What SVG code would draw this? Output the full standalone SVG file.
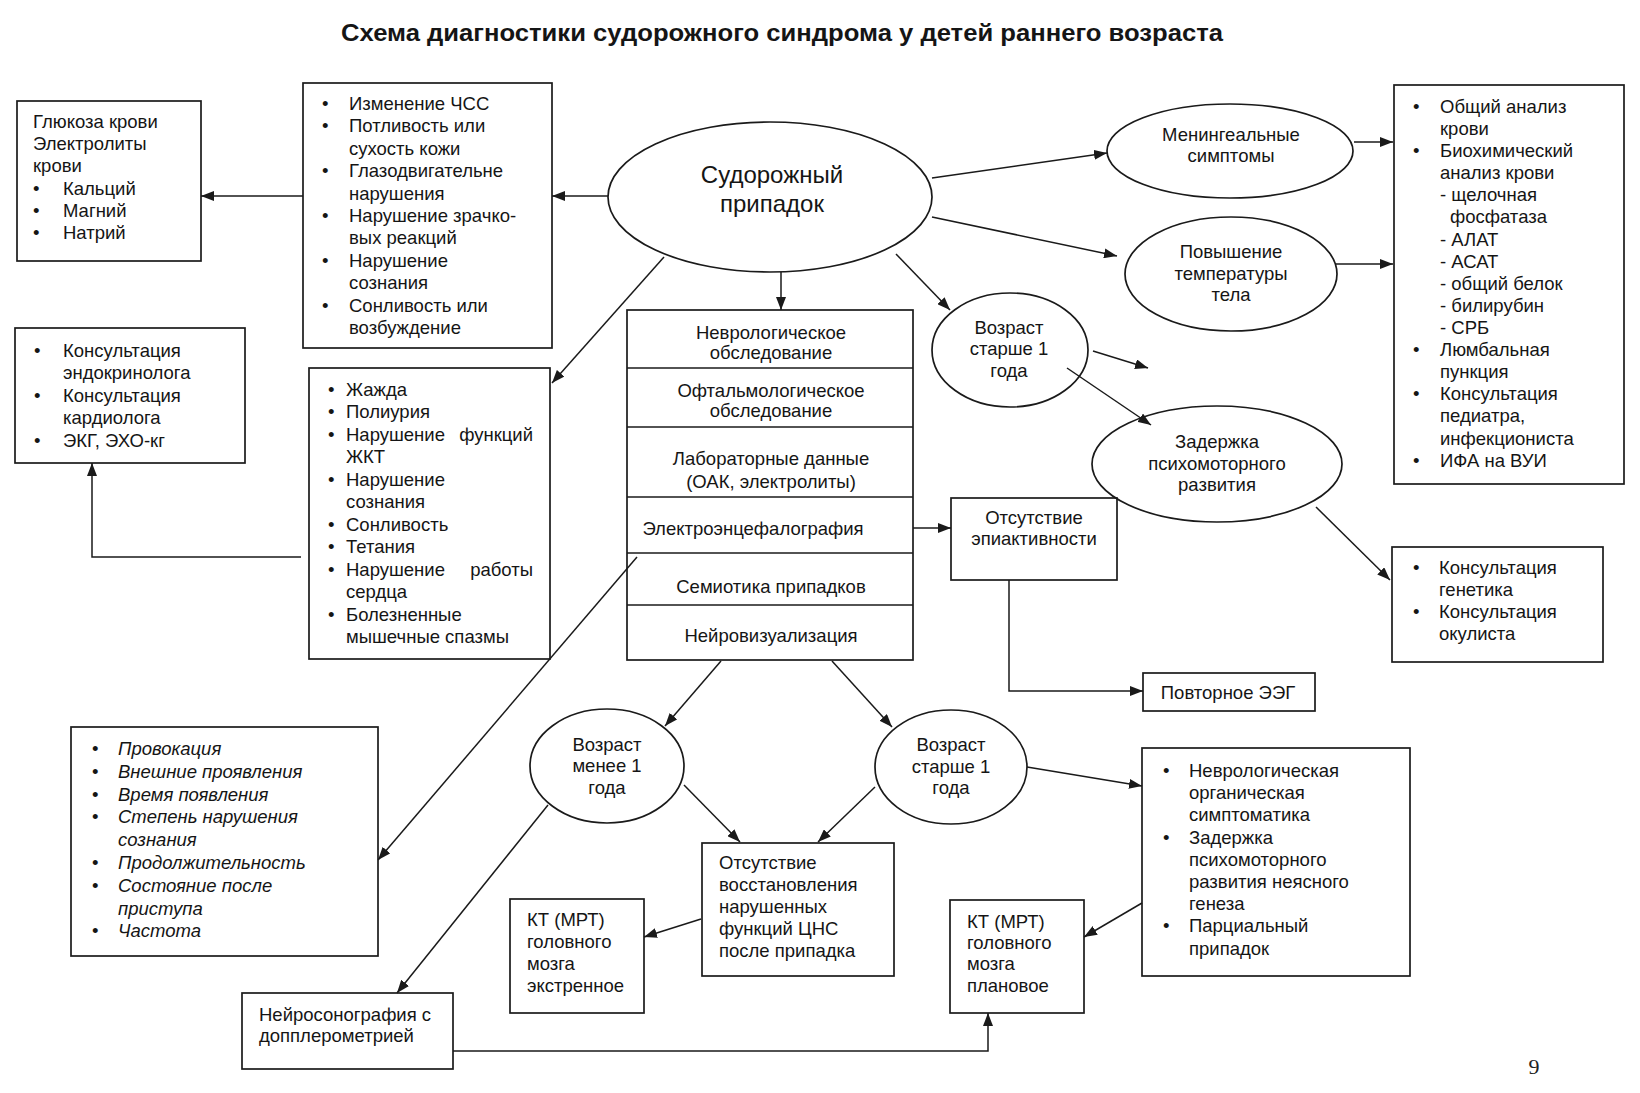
<svg xmlns="http://www.w3.org/2000/svg" width="1640" height="1093" viewBox="0 0 1640 1093">
<defs>
<marker id="ar" markerWidth="13" markerHeight="10" refX="13" refY="5" orient="auto" markerUnits="userSpaceOnUse"><path d="M0,0 L13,5 L0,10 z" fill="#1a1a1a"/></marker>
<style>
.t{font-family:"Liberation Sans",Arial,sans-serif;font-size:18.5px;fill:#151515}
.c{text-anchor:middle}
.i{font-style:italic}
.big{font-size:24px}
.ttl{font-size:23px;font-weight:bold}
.bx{fill:none;stroke:#1a1a1a;stroke-width:1.7}
.el{fill:none;stroke:#1a1a1a;stroke-width:1.7}
.ln{fill:none;stroke:#1a1a1a;stroke-width:1.5}
</style>
</defs>
<rect width="1640" height="1093" fill="#ffffff"/>
<text x="782" y="41" class="t c ttl" textLength="882" lengthAdjust="spacingAndGlyphs">Схема диагностики судорожного синдрома у детей раннего возраста</text>

<g id="node-glucose">
<rect class="bx" x="17" y="101" width="184" height="160"/>
<text class="t" x="33" y="128">Глюкоза крови</text>
<text class="t" x="33" y="150">Электролиты</text>
<text class="t" x="33" y="172">крови</text>
<text class="t" x="33" y="195">•</text><text class="t" x="63" y="195">Кальций</text>
<text class="t" x="33" y="217">•</text><text class="t" x="63" y="217">Магний</text>
<text class="t" x="33" y="239">•</text><text class="t" x="63" y="239">Натрий</text>
</g>

<g id="node-signs1">
<rect class="bx" x="303" y="83" width="249" height="265"/>
<text class="t" x="322" y="110">•</text><text class="t" x="349" y="110">Изменение ЧСС</text>
<text class="t" x="322" y="132">•</text><text class="t" x="349" y="132">Потливость или</text>
<text class="t" x="349" y="155">сухость кожи</text>
<text class="t" x="322" y="177">•</text><text class="t" x="349" y="177">Глазодвигательне</text>
<text class="t" x="349" y="200">нарушения</text>
<text class="t" x="322" y="222">•</text><text class="t" x="349" y="222">Нарушение зрачко-</text>
<text class="t" x="349" y="244">вых реакций</text>
<text class="t" x="322" y="267">•</text><text class="t" x="349" y="267">Нарушение</text>
<text class="t" x="349" y="289">сознания</text>
<text class="t" x="322" y="312">•</text><text class="t" x="349" y="312">Сонливость или</text>
<text class="t" x="349" y="334">возбуждение</text>
</g>

<g id="node-seizure">
<ellipse class="el" cx="770" cy="197" rx="162" ry="75" stroke-width="2.2"/>
<text class="t c big" x="772" y="183">Судорожный</text>
<text class="t c big" x="772" y="212">припадок</text>
</g>

<g id="node-consult1">
<rect class="bx" x="15" y="328" width="230" height="135"/>
<text class="t" x="34" y="357">•</text><text class="t" x="63" y="357">Консультация</text>
<text class="t" x="63" y="379">эндокринолога</text>
<text class="t" x="34" y="402">•</text><text class="t" x="63" y="402">Консультация</text>
<text class="t" x="63" y="424">кардиолога</text>
<text class="t" x="34" y="447">•</text><text class="t" x="63" y="447">ЭКГ, ЭХО-кг</text>
</g>

<g id="node-signs2">
<rect class="bx" x="309" y="368" width="241" height="291"/>
<text class="t" x="328" y="396">•</text><text class="t" x="346" y="396">Жажда</text>
<text class="t" x="328" y="418">•</text><text class="t" x="346" y="418">Полиурия</text>
<text class="t" x="328" y="441">•</text><text class="t" x="346" y="441">Нарушение</text><text class="t" x="533" y="441" text-anchor="end">функций</text>
<text class="t" x="346" y="463">ЖКТ</text>
<text class="t" x="328" y="486">•</text><text class="t" x="346" y="486">Нарушение</text>
<text class="t" x="346" y="508">сознания</text>
<text class="t" x="328" y="531">•</text><text class="t" x="346" y="531">Сонливость</text>
<text class="t" x="328" y="553">•</text><text class="t" x="346" y="553">Тетания</text>
<text class="t" x="328" y="576">•</text><text class="t" x="346" y="576">Нарушение</text><text class="t" x="533" y="576" text-anchor="end">работы</text>
<text class="t" x="346" y="598">сердца</text>
<text class="t" x="328" y="621">•</text><text class="t" x="346" y="621">Болезненные</text>
<text class="t" x="346" y="643">мышечные спазмы</text>
</g>

<g id="node-exams">
<rect class="bx" x="627" y="310" width="286" height="350"/>
<line class="ln" x1="627" y1="368" x2="913" y2="368" stroke-width="3"/>
<line class="ln" x1="627" y1="427" x2="913" y2="427" stroke-width="3"/>
<line class="ln" x1="627" y1="497" x2="913" y2="497"/>
<line class="ln" x1="627" y1="553" x2="913" y2="553"/>
<line class="ln" x1="627" y1="605" x2="913" y2="605"/>
<text class="t c" x="771" y="339">Неврологическое</text>
<text class="t c" x="771" y="359">обследование</text>
<text class="t c" x="771" y="397">Офтальмологическое</text>
<text class="t c" x="771" y="417">обследование</text>
<text class="t c" x="771" y="465">Лабораторные данные</text>
<text class="t c" x="771" y="488">(ОАК, электролиты)</text>
<text class="t c" x="753" y="535">Электроэнцефалография</text>
<text class="t c" x="771" y="593">Семиотика припадков</text>
<text class="t c" x="771" y="642">Нейровизуализация</text>
</g>

<g id="node-meningeal">
<ellipse class="el" cx="1230" cy="151" rx="123" ry="47"/>
<text class="t c" x="1231" y="141">Менингеальные</text>
<text class="t c" x="1231" y="162">симптомы</text>
</g>

<g id="node-fever">
<ellipse class="el" cx="1231" cy="274" rx="106" ry="57"/>
<text class="t c" x="1231" y="258">Повышение</text>
<text class="t c" x="1231" y="280">температуры</text>
<text class="t c" x="1231" y="301">тела</text>
</g>

<g id="node-age-top">
<ellipse class="el" cx="1010" cy="350" rx="78" ry="57"/>
<text class="t c" x="1009" y="334">Возраст</text>
<text class="t c" x="1009" y="355">старше 1</text>
<text class="t c" x="1009" y="377">года</text>
</g>

<g id="node-delay">
<ellipse class="el" cx="1217" cy="464" rx="125" ry="58"/>
<text class="t c" x="1217" y="448">Задержка</text>
<text class="t c" x="1217" y="470">психомоторного</text>
<text class="t c" x="1217" y="491">развития</text>
</g>

<g id="node-labs">
<rect class="bx" x="1394" y="85" width="230" height="399"/>
<text class="t" x="1413" y="113">•</text><text class="t" x="1440" y="113">Общий анализ</text>
<text class="t" x="1440" y="135">крови</text>
<text class="t" x="1413" y="157">•</text><text class="t" x="1440" y="157">Биохимический</text>
<text class="t" x="1440" y="179">анализ крови</text>
<text class="t" x="1440" y="201">- щелочная</text>
<text class="t" x="1450" y="223">фосфатаза</text>
<text class="t" x="1440" y="246">- АЛАТ</text>
<text class="t" x="1440" y="268">- АСАТ</text>
<text class="t" x="1440" y="290">- общий белок</text>
<text class="t" x="1440" y="312">- билирубин</text>
<text class="t" x="1440" y="334">- СРБ</text>
<text class="t" x="1413" y="356">•</text><text class="t" x="1440" y="356">Люмбальная</text>
<text class="t" x="1440" y="378">пункция</text>
<text class="t" x="1413" y="400">•</text><text class="t" x="1440" y="400">Консультация</text>
<text class="t" x="1440" y="422">педиатра,</text>
<text class="t" x="1440" y="445">инфекциониста</text>
<text class="t" x="1413" y="467">•</text><text class="t" x="1440" y="467">ИФА на ВУИ</text>
</g>

<g id="node-noepi">
<rect class="bx" x="951" y="498" width="166" height="82"/>
<text class="t c" x="1034" y="524">Отсутствие</text>
<text class="t c" x="1034" y="545">эпиактивности</text>
</g>

<g id="node-repeat-eeg">
<rect class="bx" x="1143" y="673" width="172" height="38"/>
<text class="t c" x="1228" y="699">Повторное ЭЭГ</text>
</g>

<g id="node-genetics">
<rect class="bx" x="1392" y="547" width="211" height="115"/>
<text class="t" x="1413" y="574">•</text><text class="t" x="1439" y="574">Консультация</text>
<text class="t" x="1439" y="596">генетика</text>
<text class="t" x="1413" y="618">•</text><text class="t" x="1439" y="618">Консультация</text>
<text class="t" x="1439" y="640">окулиста</text>
</g>

<g id="node-semiotics">
<rect class="bx" x="71" y="727" width="307" height="229"/>
<text class="t" x="92" y="755">•</text><text class="t i" x="118" y="755">Провокация</text>
<text class="t" x="92" y="778">•</text><text class="t i" x="118" y="778">Внешние проявления</text>
<text class="t" x="92" y="801">•</text><text class="t i" x="118" y="801">Время появления</text>
<text class="t" x="92" y="823">•</text><text class="t i" x="118" y="823">Степень нарушения</text>
<text class="t i" x="118" y="846">сознания</text>
<text class="t" x="92" y="869">•</text><text class="t i" x="118" y="869">Продолжительность</text>
<text class="t" x="92" y="892">•</text><text class="t i" x="118" y="892">Состояние после</text>
<text class="t i" x="118" y="915">приступа</text>
<text class="t" x="92" y="937">•</text><text class="t i" x="118" y="937">Частота</text>
</g>

<g id="node-age-lt1">
<ellipse class="el" cx="607" cy="766" rx="77" ry="57"/>
<text class="t c" x="607" y="751">Возраст</text>
<text class="t c" x="607" y="772">менее 1</text>
<text class="t c" x="607" y="794">года</text>
</g>

<g id="node-age-gt1">
<ellipse class="el" cx="951" cy="767" rx="76" ry="57"/>
<text class="t c" x="951" y="751">Возраст</text>
<text class="t c" x="951" y="773">старше 1</text>
<text class="t c" x="951" y="794">года</text>
</g>

<g id="node-norecovery">
<rect class="bx" x="702" y="843" width="192" height="133"/>
<text class="t" x="719" y="869">Отсутствие</text>
<text class="t" x="719" y="891">восстановления</text>
<text class="t" x="719" y="913">нарушенных</text>
<text class="t" x="719" y="935">функций ЦНС</text>
<text class="t" x="719" y="957">после припадка</text>
</g>

<g id="node-ct-urgent">
<rect class="bx" x="510" y="899" width="134" height="114"/>
<text class="t" x="527" y="926">КТ (МРТ)</text>
<text class="t" x="527" y="948">головного</text>
<text class="t" x="527" y="970">мозга</text>
<text class="t" x="527" y="992">экстренное</text>
</g>

<g id="node-nsg">
<rect class="bx" x="242" y="993" width="211" height="76"/>
<text class="t" x="259" y="1021">Нейросонография с</text>
<text class="t" x="259" y="1042">допплерометрией</text>
</g>

<g id="node-ct-planned">
<rect class="bx" x="950" y="900" width="134" height="113"/>
<text class="t" x="967" y="928">КТ (МРТ)</text>
<text class="t" x="967" y="949">головного</text>
<text class="t" x="967" y="970">мозга</text>
<text class="t" x="967" y="992">плановое</text>
</g>

<g id="node-neuro-signs">
<rect class="bx" x="1142" y="748" width="268" height="228"/>
<text class="t" x="1163" y="777">•</text><text class="t" x="1189" y="777">Неврологическая</text>
<text class="t" x="1189" y="799">органическая</text>
<text class="t" x="1189" y="821">симптоматика</text>
<text class="t" x="1163" y="844">•</text><text class="t" x="1189" y="844">Задержка</text>
<text class="t" x="1189" y="866">психомоторного</text>
<text class="t" x="1189" y="888">развития неясного</text>
<text class="t" x="1189" y="910">генеза</text>
<text class="t" x="1163" y="932">•</text><text class="t" x="1189" y="932">Парциальный</text>
<text class="t" x="1189" y="955">припадок</text>
</g>

<text x="1534" y="1074" font-family="'Liberation Serif',serif" font-size="22" text-anchor="middle" fill="#222">9</text>

<g id="connectors" class="ln" marker-end="url(#ar)">
<line class="ln" x1="608" y1="196" x2="552" y2="196"/>
<line class="ln" x1="303" y1="196" x2="201" y2="196"/>
<line class="ln" x1="664" y1="257" x2="552" y2="383"/>
<polyline class="ln" points="301,557 92,557 92,463"/>
<line class="ln" x1="781" y1="272" x2="781" y2="310"/>
<line class="ln" x1="932" y1="178" x2="1107" y2="153"/>
<line class="ln" x1="932" y1="217" x2="1117" y2="256"/>
<line class="ln" x1="1354" y1="142" x2="1393" y2="142"/>
<line class="ln" x1="1335" y1="264" x2="1393" y2="264"/>
<line class="ln" x1="896" y1="254" x2="950" y2="310"/>
<line class="ln" x1="1093" y1="351" x2="1148" y2="368"/>
<line class="ln" x1="1067" y1="368" x2="1151" y2="425"/>
<line class="ln" x1="1316" y1="507" x2="1390" y2="580"/>
<line class="ln" x1="913" y1="528" x2="951" y2="528"/>
<polyline class="ln" points="1009,580 1009,691 1143,691"/>
<line class="ln" x1="637" y1="557" x2="378" y2="860"/>
<line class="ln" x1="721" y1="661" x2="665" y2="726"/>
<line class="ln" x1="832" y1="661" x2="892" y2="727"/>
<line class="ln" x1="684" y1="785" x2="740" y2="842"/>
<line class="ln" x1="548" y1="805" x2="397" y2="993"/>
<line class="ln" x1="701" y1="919" x2="644" y2="937"/>
<line class="ln" x1="1027" y1="767" x2="1142" y2="786"/>
<line class="ln" x1="875" y1="787" x2="818" y2="842"/>
<line class="ln" x1="1142" y1="903" x2="1084" y2="937"/>
<polyline class="ln" points="453,1051 988,1051 988,1013"/>
</g>
</svg>
